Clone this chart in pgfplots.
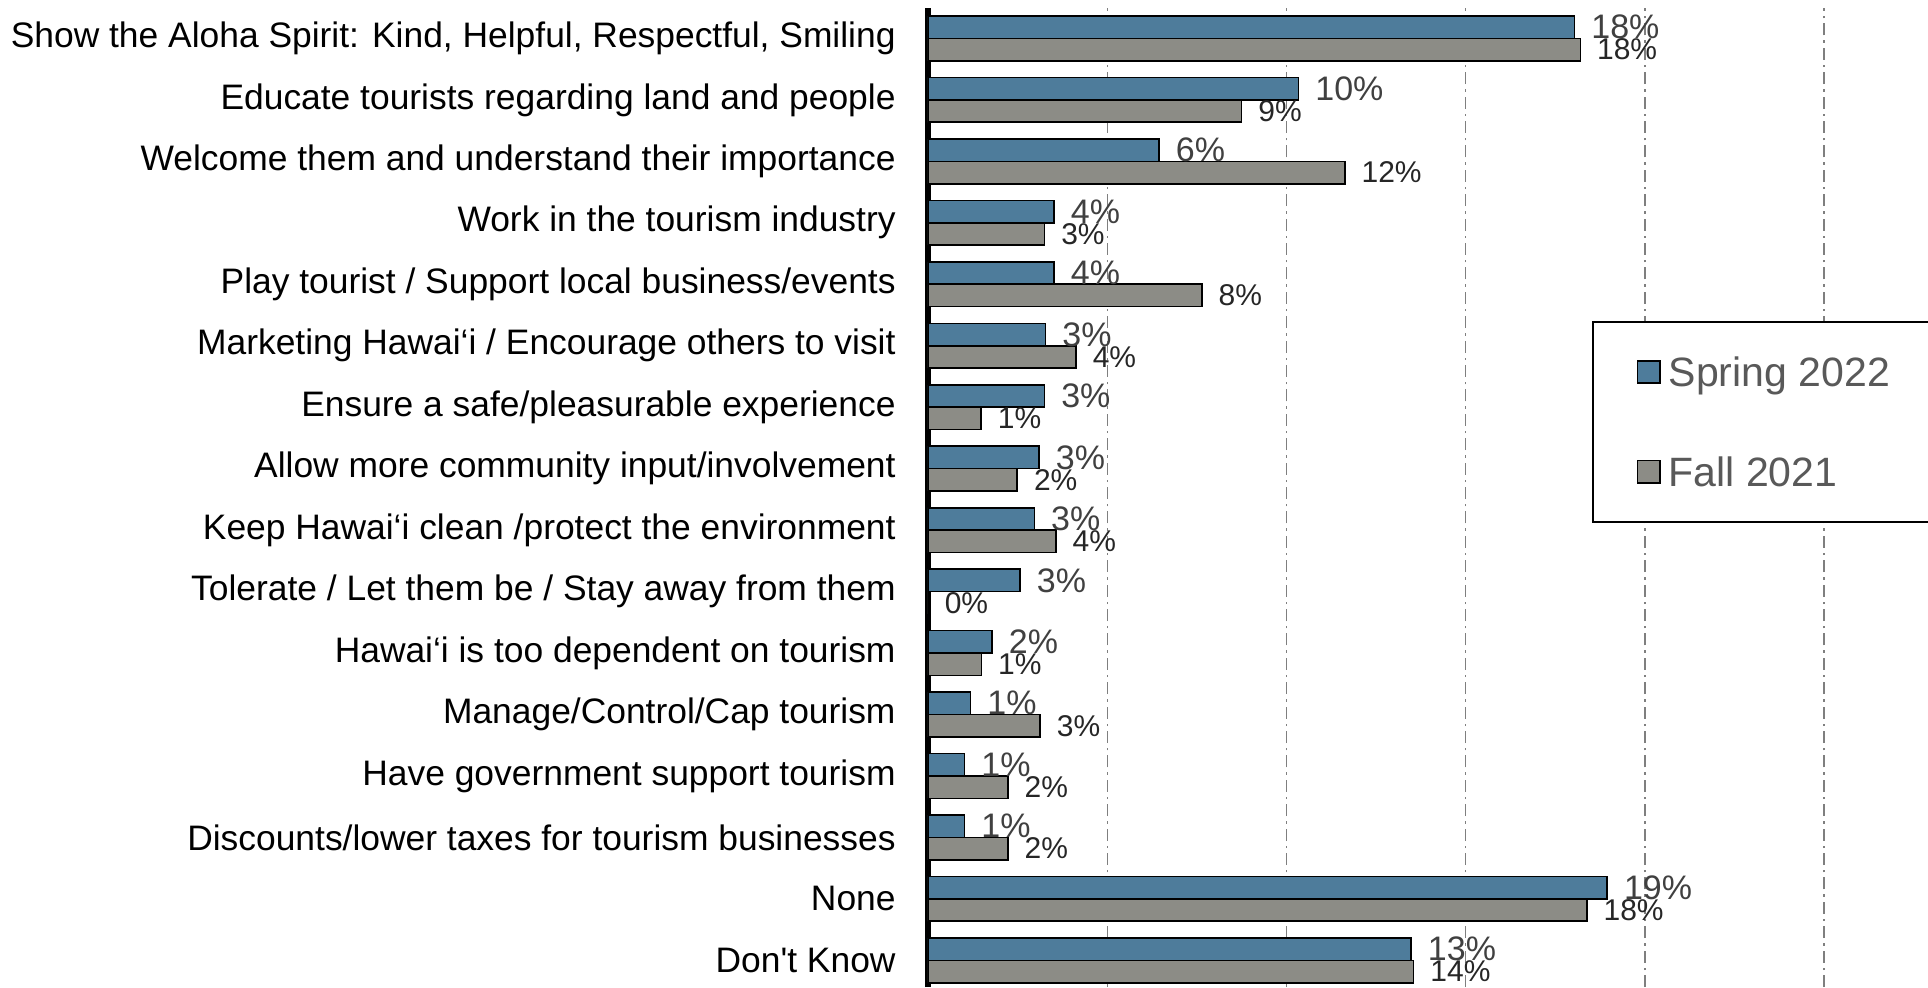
\documentclass[border=0pt]{standalone}
\usepackage{pgfplots}
\pgfplotsset{compat=1.18}
\usepackage{pgfplotstable}
\usepackage{fontspec}
\setmainfont{Liberation Sans}
\definecolor{springc}{HTML}{4E7C9B}
\definecolor{fallc}{HTML}{8C8C86}
\definecolor{springlab}{HTML}{404040}
\definecolor{falllab}{HTML}{262626}
\definecolor{leggray}{HTML}{595959}
\definecolor{gridc}{HTML}{7F7F7F}

\pgfplotstableread{
y spring slab fall flab
15 18.04 18 18.20 18
14 10.34 10 8.75 9
13 6.45 6 11.63 12
12 3.52 4 3.25 3
11 3.52 4 7.64 8
10 3.28 3 4.13 4
9 3.25 3 1.48 1
8 3.10 3 2.49 2
7 2.97 3 3.57 4
6 2.57 3 0 0
5 1.79 2 1.49 1
4 1.19 1 3.13 3
3 1.02 1 2.23 2
2 1.02 1 2.23 2
1 18.95 19 18.38 18
0 13.48 13 13.55 14
}\data

\begin{document}
\begin{tikzpicture}
\useasboundingbox (-464pt,0pt) rectangle (500pt,493.5pt);
\clip (-464pt,0pt) rectangle (500pt,493.5pt);
\begin{axis}[
  at={(0pt,0pt)}, anchor=south west,
  scale only axis, width=500pt, height=489.5pt,
  xbar, bar width=11.2pt,
  xmin=0, xmax=27.9, ymin=-0.434, ymax=15.495,
  axis x line*=bottom,
  x axis line style={draw=none},
  axis y line*=left,
  y axis line style={line width=3pt, -},
  major tick length=0pt,
  xtick={5,10,15,20,25},
  xticklabels={,,,,},
  xticklabel style={inner sep=0pt, outer sep=0pt},
  xmajorgrids,
  grid style={gridc, line width=0.7pt, dash pattern=on 6pt off 2.5pt on 1.2pt off 2.5pt},
  ytick={0,...,15},
  yticklabels={Don\textquotesingle t Know, None, Discounts/lower taxes for tourism businesses, Have government support tourism, Manage/Control/Cap tourism, Hawai‘i is too dependent on tourism, Tolerate / Let them be / Stay away from them, Keep Hawai‘i clean /protect the environment, Allow more community input/involvement, Ensure a safe/pleasurable experience, Marketing Hawai‘i / Encourage others to visit, Play tourist / Support local business/events, Work in the tourism industry, Welcome them and understand their importance, Educate tourists regarding land and people, {Show the Aloha Spirit: Kind, Helpful, Respectful, Smiling}},
  yticklabel style={font=\fontsize{17.7}{20}\selectfont, anchor=east, inner sep=0pt, xshift=-16pt, text=black},
  legend style={at={(axis description cs:0.6644,0.6803)}, anchor=north west, draw=black, line width=1pt, fill=white,
    inner xsep=21.7pt, inner ysep=17.6pt, row sep=35pt,
    font=\fontsize{20.5}{24}\selectfont, text=leggray,
    nodes={inner sep=0pt, text height=14.8pt, text depth=0pt},
    /tikz/every odd column/.append style={column sep=4pt}},
  legend cell align=left,
]
\addplot[fill=springc, draw=black, line width=0.8pt, bar shift=5.6pt,
  nodes near coords={\pgfplotspointmeta\%}, point meta=explicit symbolic,
  every node near coord/.append style={anchor=west, inner sep=0pt, xshift=8pt, font=\fontsize{17}{20}\selectfont, text=springlab},
  legend image code/.code={\draw[fill=springc, draw=black, line width=0.8pt] (0pt,-5.6pt) rectangle (11.2pt,5.6pt);}]
  table[x=spring, y=y, meta=slab] {\data};
\addlegendentry{Spring 2022\hspace{40pt}}
\addplot[fill=fallc, draw=black, line width=0.8pt, bar shift=-5.6pt,
  nodes near coords={\pgfplotspointmeta\%}, point meta=explicit symbolic,
  every node near coord/.append style={anchor=west, inner sep=0pt, xshift=8pt, font=\fontsize{15}{18}\selectfont, text=falllab},
  legend image code/.code={\draw[fill=fallc, draw=black, line width=0.8pt] (0pt,-5.6pt) rectangle (11.2pt,5.6pt);}]
  table[x=fall, y=y, meta=flab] {\data};
\addlegendentry{Fall 2021\hspace{40pt}}
\end{axis}
\end{tikzpicture}
\end{document}
